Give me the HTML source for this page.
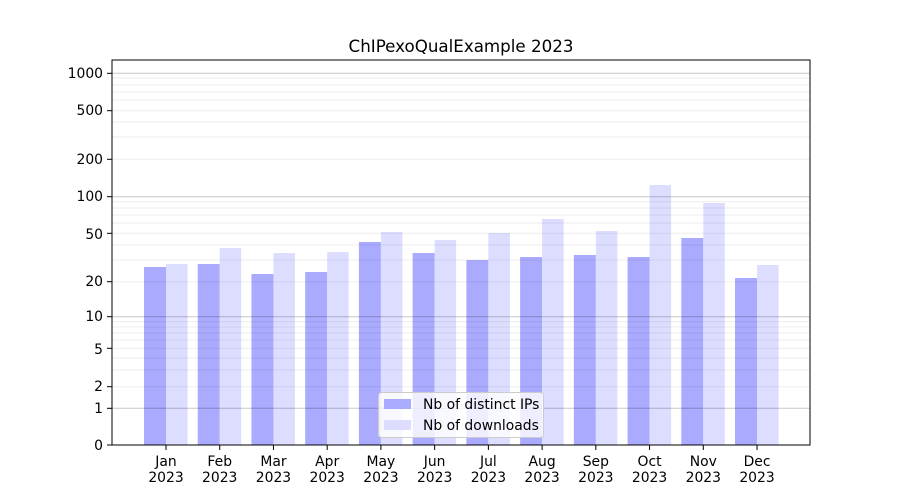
<!DOCTYPE html>
<html><head><meta charset="utf-8"><style>body{margin:0;background:#fff}svg{display:block}</style></head><body>
<svg width="900" height="500" xmlns="http://www.w3.org/2000/svg" font-family="DejaVu Sans, Liberation Sans, sans-serif">
<rect width="900" height="500" fill="#fff"/>
<g id="bars"></g>
<text x="461" y="52" font-size="16.7" text-anchor="middle">ChIPexoQualExample 2023</text>
<g font-size="13.9" text-anchor="end" fill="#000">
<text x="103" y="450">0</text><text x="103" y="413">1</text><text x="103" y="391">2</text><text x="103" y="354">5</text>
<text x="103" y="321">10</text><text x="103" y="286">20</text><text x="103" y="239">50</text><text x="103" y="201">100</text>
<text x="103" y="164">200</text><text x="103" y="115">500</text><text x="103" y="78">1000</text>
</g>
<g stroke="#000" stroke-width="1">
<line x1="107" x2="112" y1="445" y2="445"/><line x1="107" x2="112" y1="408.3" y2="408.3"/><line x1="107" x2="112" y1="386.7" y2="386.7"/><line x1="107" x2="112" y1="348.3" y2="348.3"/><line x1="107" x2="112" y1="316.7" y2="316.7"/><line x1="107" x2="112" y1="281.7" y2="281.7"/><line x1="107" x2="112" y1="233.3" y2="233.3"/><line x1="107" x2="112" y1="196.7" y2="196.7"/><line x1="107" x2="112" y1="159.3" y2="159.3"/><line x1="107" x2="112" y1="110.7" y2="110.7"/><line x1="107" x2="112" y1="73.3" y2="73.3"/>
</g>
<rect x="112" y="60" width="698" height="385" fill="none" stroke="#000" stroke-width="1"/>
<g id="xt" font-size="13.9" text-anchor="middle"></g>
<g>
<rect x="378.5" y="392.5" width="165" height="45" rx="3" fill="#fff" fill-opacity="0.8" stroke="#ccc"/>
<rect x="384" y="399" width="27" height="10" fill="#aaaaff"/>
<rect x="384" y="420" width="27" height="10" fill="#ddddff"/>
<text x="423" y="409" font-size="13.9">Nb of distinct IPs</text>
<text x="423" y="430" font-size="13.9">Nb of downloads</text>
</g>
<script>
var ns="http://www.w3.org/2000/svg",g=document.getElementById('bars'),xt=document.getElementById('xt');
function el(p,t,a){var e=document.createElementNS(ns,t);for(var k in a)e.setAttribute(k,a[k]);p.appendChild(e);return e;}
var m=["Jan","Feb","Mar","Apr","May","Jun","Jul","Aug","Sep","Oct","Nov","Dec"];
var ip=[267,264,274,272,242,253,260,257,255,257,238,278];
var dl=[264,248,253,252,232,240,233,219,231,185,203,265];
for(var i=0;i<12;i++){var c=166+i*53.73;
el(g,'rect',{x:c-22,y:ip[i],width:22,height:445-ip[i],fill:'#aaaaff'});
el(g,'rect',{x:c,y:dl[i],width:21.5,height:445-dl[i],fill:'#ddddff'});
el(xt,'line',{x1:c,x2:c,y1:445,y2:450,stroke:'#000'});
var t=el(xt,'text',{x:c,y:466});t.textContent=m[i];
t=el(xt,'text',{x:c,y:482});t.textContent="2023";}
var minor=[386.7,370,358,348.3,340,333,327,321.7,281.7,260,245,233.3,223,215,208,201.7,159.3,137,122,110.7,100,92,85,78];
minor.forEach(function(y){el(g,'line',{x1:112,x2:810,y1:y,y2:y,stroke:'#000','stroke-opacity':0.07,'stroke-width':1});});
[408.3,316.7,196.7,73.3].forEach(function(y){el(g,'line',{x1:112,x2:810,y1:y,y2:y,stroke:'#000','stroke-opacity':0.22,'stroke-width':1});});
</script>
</svg>
</body></html>
